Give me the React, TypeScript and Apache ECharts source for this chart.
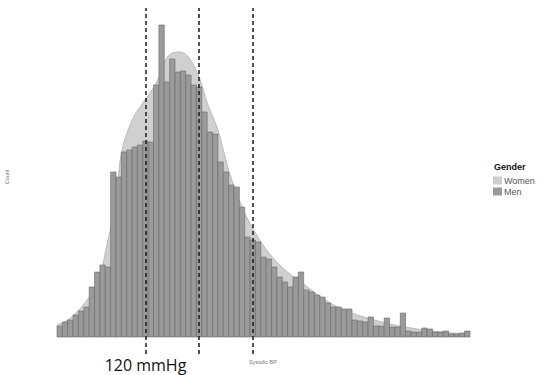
import React, { useEffect, useRef } from "react";
import * as echarts from "echarts";

// Histogram of systolic blood pressure (Men), 2 mmHg bins starting at 87 mmHg
const BIN_START = 87;
const BIN_WIDTH = 2;
const menCounts: number[] = [
  11, 15, 17, 22, 26, 30, 50, 65, 72, 70,
  165, 160, 185, 187, 190, 192, 196, 195, 252, 312,
  255, 278, 265, 266, 262, 252, 250, 225, 205, 203,
  175, 165, 152, 150, 130, 100, 97, 95, 80, 78,
  70, 60, 55, 50, 60, 65, 47, 45, 42, 40,
  34, 30, 30, 28, 28, 17, 16, 15, 20, 11,
  11, 19, 10, 10, 24, 6, 5, 5, 9, 8,
  5, 5, 6, 3, 3, 4, 6,
];

// Smoothed density of Women (scaled to counts)
const womenBP: number[] = [87, 92, 99, 103, 105, 109, 111, 115, 119, 124, 127, 130, 133, 136, 140, 143, 147, 151, 156, 161, 166, 172, 178, 187, 196, 208, 219, 230, 241];
const womenLevel: number[] = [12, 19, 40, 62, 84, 137, 184, 217, 234, 254, 275, 284, 285, 280, 260, 234, 207, 167, 130, 104, 84, 67, 55, 37, 25, 15, 9, 5, 3];

// Reference thresholds (mmHg)
const thresholds: number[] = [120, 140, 160];
const labelledTick: number[] = [120];

const X_MIN = 87;
const X_MAX = 241;
const Y_MAX = 320;

export default function App() {
  const ref = useRef<HTMLDivElement>(null);
  useEffect(() => {
    if (!ref.current) return;
    const chart = echarts.init(ref.current, undefined, { renderer: "svg" });
    const menData = menCounts.map((c, i) => [BIN_START + i * BIN_WIDTH, c]);
    const womenData = womenBP.map((v, i) => [v, womenLevel[i]]);
    chart.setOption({
      animation: false,
      backgroundColor: "#ffffff",
      textStyle: { fontFamily: "Liberation Sans, Arial, sans-serif" },
      grid: [
        { left: 57, right: 79, top: 17, bottom: 38, outerBoundsMode: "none", containLabel: false },
        { left: 57, right: 79, top: 8, bottom: 21, outerBoundsMode: "none", containLabel: false },
      ],
      xAxis: [
        {
          type: "value",
          gridIndex: 0,
          min: X_MIN,
          max: X_MAX,
          axisLine: { show: false },
          axisTick: { show: false },
          splitLine: { show: false },
          axisLabel: {
            customValues: labelledTick,
            formatter: (v: number) => `${v} mmHg`,
            margin: 20,
            fontSize: 16,
            color: "#111",
            fontFamily: "Open Sans",
          },
        },
        {
          type: "value",
          gridIndex: 1,
          min: X_MIN,
          max: X_MAX,
          show: false,
        },
      ],
      yAxis: [
        {
          type: "value",
          gridIndex: 0,
          min: 0,
          max: Y_MAX,
          name: "Count",
          nameLocation: "middle",
          nameGap: 47,
          nameTextStyle: { fontSize: 5.5, color: "#777" },
          axisLine: { show: false },
          axisTick: { show: false },
          axisLabel: { show: false },
          splitLine: { show: false },
        },
        { type: "value", gridIndex: 1, min: 0, max: 1, show: false },
      ],
      legend: {
        orient: "vertical",
        left: 493,
        top: 176,
        padding: 0,
        itemWidth: 9,
        itemHeight: 8,
        itemGap: 2,
        textStyle: { fontSize: 9, color: "#555", padding: [0, 0, 0, -3] },
        data: [
          { name: "Women", icon: "rect" },
          { name: "Men", icon: "rect" },
        ],
      },
      graphic: [
        {
          type: "text",
          left: 494,
          top: 162,
          style: { text: "Gender", font: "bold 9px Liberation Sans, Arial, sans-serif", fill: "#111" },
        },
        {
          type: "text",
          x: 263,
          y: 362,
          style: {
            text: "Systolic BP",
            font: "5.5px Liberation Sans, Arial, sans-serif",
            fill: "#777",
            align: "center",
            verticalAlign: "middle",
          },
        },
      ],
      series: [
        {
          name: "Women",
          type: "line",
          xAxisIndex: 0,
          yAxisIndex: 0,
          data: womenData,
          smooth: 0.35,
          showSymbol: false,
          z: 1,
          itemStyle: { color: "#cdcdcd" },
          lineStyle: { color: "#b9b9b9", width: 1 },
          areaStyle: { color: "#d0d0d0", opacity: 1 },
        },
        {
          name: "Men",
          type: "custom",
          xAxisIndex: 0,
          yAxisIndex: 0,
          z: 2,
          data: menData,
          encode: { x: 0, y: 1 },
          itemStyle: { color: "#9a9a9a" },
          renderItem: (params: any, api: any) => {
            const x0 = api.value(0);
            const h = api.value(1);
            const p0 = api.coord([x0, h]);
            const p1 = api.coord([x0 + BIN_WIDTH, 0]);
            return {
              type: "rect",
              shape: { x: p0[0], y: p0[1], width: p1[0] - p0[0], height: p1[1] - p0[1] },
              style: { fill: "#9a9a9a", stroke: "#6a6a6a", lineWidth: 0.6 },
            };
          },
        },
        {
          type: "line",
          xAxisIndex: 1,
          yAxisIndex: 1,
          data: [],
          z: 5,
          markLine: {
            silent: true,
            symbol: "none",
            label: { show: false },
            lineStyle: { color: "#1a1a1a", type: [4, 3], width: 1.5 },
            data: thresholds.map((t) => ({ xAxis: t })),
          },
        },
      ],
    });
    return () => chart.dispose();
  }, []);
  return <div ref={ref} style={{ width: 549, height: 375, position: "absolute", left: 0, top: 0 }} />;
}
